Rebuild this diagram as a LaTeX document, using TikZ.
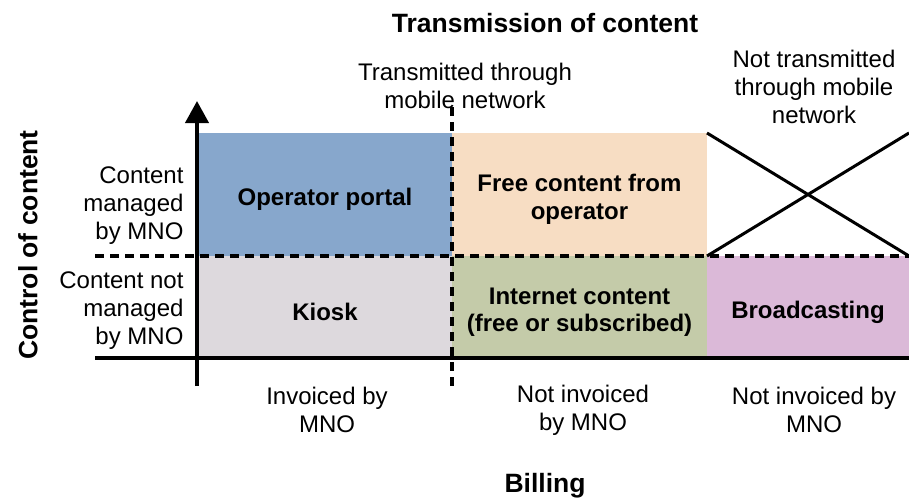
\documentclass[tikz,border=0pt]{standalone}
\usepackage{fontspec}
\setmainfont{Liberation Sans}
\usepackage{xcolor}
\usetikzlibrary{calc, positioning}
\usetikzlibrary{arrows.meta}

\definecolor{portalblue}{HTML}{87A7CC}
\definecolor{freepeach}{HTML}{F7DDC3}
\definecolor{kioskgrey}{HTML}{DDD9DD}
\definecolor{netgreen}{HTML}{C4CBA9}
\definecolor{castpink}{HTML}{DBB9D8}

\begin{document}
\begin{tikzpicture}[x=1pt,y=-1pt,
    lbl/.style={align=center,font=\fontsize{24}{28}\selectfont},
    boxlbl/.style={align=center,font=\fontsize{24}{27.5}\selectfont\bfseries,yshift=-5pt},
    axislbl/.style={font=\fontsize{26.5}{30}\selectfont\bfseries},
    sep/.style={line width=3.4pt,dash pattern=on 9pt off 6pt}]
  \useasboundingbox (0,0) rectangle (909,498);

  % cells
  \coordinate (c0) at (198,133);
  \coordinate (c1) at (452,133);
  \coordinate (c2) at (707,133);
  \coordinate (c3) at (909,133);
  \coordinate (m0) at (198,256);
  \coordinate (m1) at (452,256);
  \coordinate (m2) at (707,256);
  \coordinate (m3) at (909,256);
  \coordinate (b0) at (198,358);
  \coordinate (b1) at (452,358);
  \coordinate (b2) at (707,358);
  \coordinate (b3) at (909,358);
  \fill[portalblue] (c0) rectangle (m1);
  \fill[freepeach] (c1) rectangle (m2);
  \fill[kioskgrey] (m0) rectangle (b1);
  \fill[netgreen] (m1) rectangle (b2);
  \fill[castpink] (m2) rectangle (b3);
  \draw[line width=3pt] (c2) -- (m3) (m2) -- (c3);

  % separators
  \draw[sep] (95,256) -- (m3);
  \draw[sep] (452,107) -- (452,386);

  % axes
  \draw[line width=4pt] (95,358) -- (909,358);
  \draw[line width=4pt,-{Triangle[width=23pt,length=22pt]}] (197,386) -- (197,101);

  % box labels
  \node[boxlbl] (portal) at ($(c0)!0.5!(m1)$) {Operator portal};
  \node[boxlbl] (free) at ($(c1)!0.5!(m2)$) {Free content from\\operator};
  \node[boxlbl] (kiosk) at ($(m0)!0.5!(b1)$) {Kiosk};
  \node[boxlbl] (internet) at ($(m1)!0.5!(b2)$) {Internet content\\(free or subscribed)};
  \node[boxlbl] (cast) at ($(m2)!0.5!(b3)$) {Broadcasting};

  % headings
  \node[axislbl] (trans) at (545,23) {Transmission of content};
  \node[lbl] (through) at (465,86) {Transmitted through\\mobile network};
  \node[lbl] (notthrough) at (814,87) {Not transmitted\\through mobile\\network};
  \node[lbl,align=right,anchor=east] (managed) at (187,206) {Content\\managed\\by MNO};
  \node[lbl,align=right,anchor=east] (notmanaged) at (187,311) {Content not\\managed\\by MNO};
  \node[axislbl,rotate=90] (control) at (28,245) {Control of content};

  % billing
  \node[lbl] (inv) at (327,410) {Invoiced by\\MNO};
  \node[lbl] (notinv) at (583,410) {Not invoiced\\by MNO};
  \node[lbl] (notinvb) at (814,410) {Not invoiced by\\MNO};
  \node[axislbl] (billing) at (545,486) {Billing};
\end{tikzpicture}
\end{document}
